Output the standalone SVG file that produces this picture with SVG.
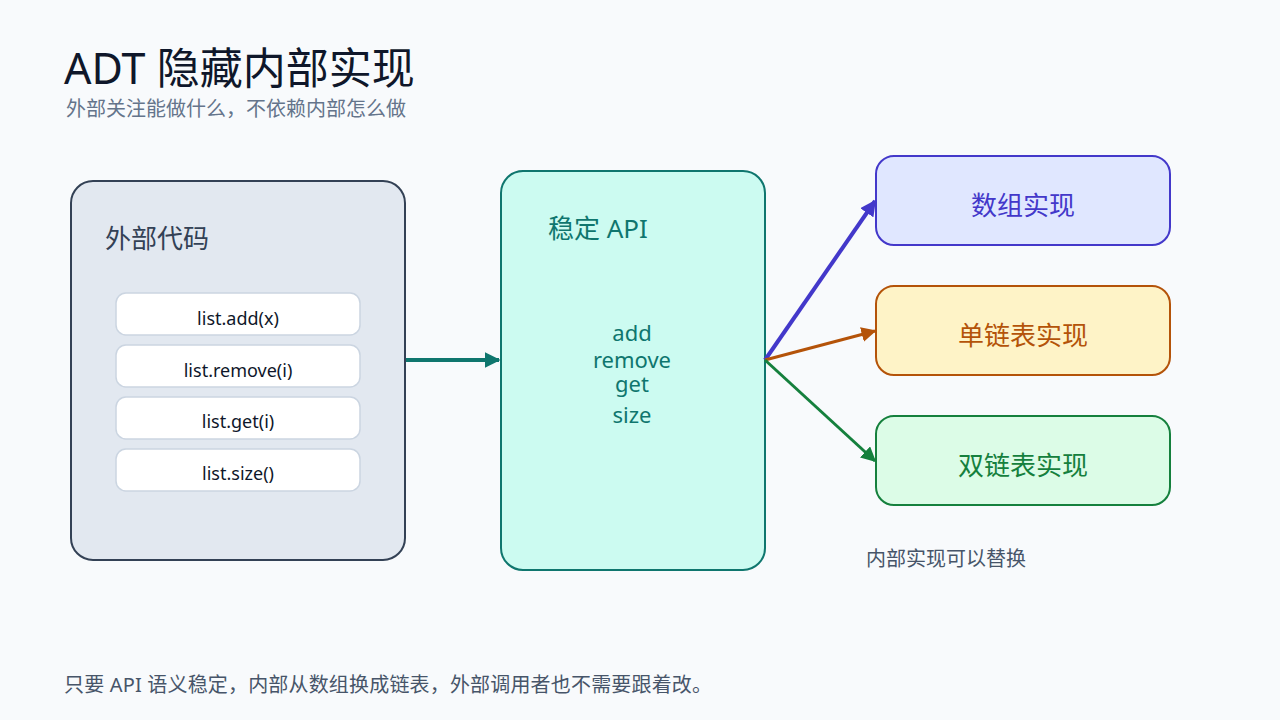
<svg xmlns="http://www.w3.org/2000/svg" width="1280" height="720" viewBox="0 0 1280 720">
  <style>
    text { font-family: "Noto Sans", "Noto Sans CJK SC", sans-serif; }
    .title { font-size: 43px; fill: #0f172a; }
    .sub { font-size: 20px; fill: #64748b; }
    .note { font-size: 20px; fill: #475569; }
    .call { fill: #ffffff; stroke: #cbd5e1; stroke-width: 1.5; }
    .calltxt { font-size: 18px; fill: #0f172a; text-anchor: middle; }
    .api { font-size: 22px; fill: #0f766e; text-anchor: middle; }
    .impl { font-size: 26px; text-anchor: middle; }
  </style>
  <defs>
    <marker id="ah-teal" viewBox="0 0 10 10" refX="9" refY="5" markerWidth="4" markerHeight="4" orient="auto" markerUnits="strokeWidth">
      <path d="M0,0 L10,5 L0,10 Z" fill="#0f766e"/>
    </marker>
    <marker id="ah-blue" viewBox="0 0 10 10" refX="9" refY="5" markerWidth="4" markerHeight="4" orient="auto" markerUnits="strokeWidth">
      <path d="M0,0 L10,5 L0,10 Z" fill="#4338ca"/>
    </marker>
    <marker id="ah-orange" viewBox="0 0 10 10" refX="9" refY="5" markerWidth="5" markerHeight="5" orient="auto" markerUnits="strokeWidth">
      <path d="M0,0 L10,5 L0,10 Z" fill="#b45309"/>
    </marker>
    <marker id="ah-green" viewBox="0 0 10 10" refX="9" refY="5" markerWidth="5" markerHeight="5" orient="auto" markerUnits="strokeWidth">
      <path d="M0,0 L10,5 L0,10 Z" fill="#15803d"/>
    </marker>
  </defs>

  <rect width="1280" height="720" fill="#f8fafc"/>

  <text class="title" x="64" y="84">ADT 隐藏内部实现</text>
  <text class="sub" x="66" y="116">外部关注能做什么，不依赖内部怎么做</text>

  <g id="external-code">
    <rect x="71" y="181" width="334" height="379" rx="22" fill="#e2e8f0" stroke="#334155" stroke-width="2"/>
    <text x="105" y="248" font-size="26" fill="#334155">外部代码</text>
    <rect class="call" x="116" y="293" width="244" height="42" rx="10"/>
    <text class="calltxt" x="238" y="325">list.add(x)</text>
    <rect class="call" x="116" y="345" width="244" height="42" rx="10"/>
    <text class="calltxt" x="238" y="377">list.remove(i)</text>
    <rect class="call" x="116" y="397" width="244" height="42" rx="10"/>
    <text class="calltxt" x="238" y="428">list.get(i)</text>
    <rect class="call" x="116" y="449" width="244" height="42" rx="10"/>
    <text class="calltxt" x="238" y="480">list.size()</text>
  </g>

  <g id="stable-api">
    <rect x="501" y="171" width="264" height="399" rx="22" fill="#ccfbf1" stroke="#0f766e" stroke-width="2"/>
    <text x="548" y="238" font-size="26" fill="#0f766e">稳定 API</text>
    <text class="api" x="632" y="341">add</text>
    <text class="api" x="632" y="368">remove</text>
    <text class="api" x="632" y="392">get</text>
    <text class="api" x="632" y="423">size</text>
  </g>

  <g id="array-impl">
    <rect x="876" y="156" width="294" height="89" rx="18" fill="#e0e7ff" stroke="#4338ca" stroke-width="2"/>
    <text class="impl" x="1023" y="215" fill="#4338ca">数组实现</text>
  </g>

  <g id="singly-linked-impl">
    <rect x="876" y="286" width="294" height="89" rx="18" fill="#fef3c7" stroke="#b45309" stroke-width="2"/>
    <text class="impl" x="1023" y="345" fill="#b45309">单链表实现</text>
  </g>

  <g id="doubly-linked-impl">
    <rect x="876" y="416" width="294" height="89" rx="18" fill="#dcfce7" stroke="#15803d" stroke-width="2"/>
    <text class="impl" x="1023" y="475" fill="#15803d">双链表实现</text>
  </g>

  <g id="connectors" fill="none">
    <line x1="406" y1="360" x2="499" y2="360" stroke="#0f766e" stroke-width="4" marker-end="url(#ah-teal)"/>
    <line x1="765" y1="360" x2="875" y2="201" stroke="#4338ca" stroke-width="4" marker-end="url(#ah-blue)"/>
    <line x1="765" y1="360" x2="875" y2="331" stroke="#b45309" stroke-width="3" marker-end="url(#ah-orange)"/>
    <line x1="765" y1="360" x2="875" y2="461" stroke="#15803d" stroke-width="3" marker-end="url(#ah-green)"/>
  </g>

  <text class="note" x="866" y="566">内部实现可以替换</text>
  <text class="note" x="64" y="692" textLength="648" lengthAdjust="spacing">只要 API 语义稳定，内部从数组换成链表，外部调用者也不需要跟着改。</text>
</svg>
